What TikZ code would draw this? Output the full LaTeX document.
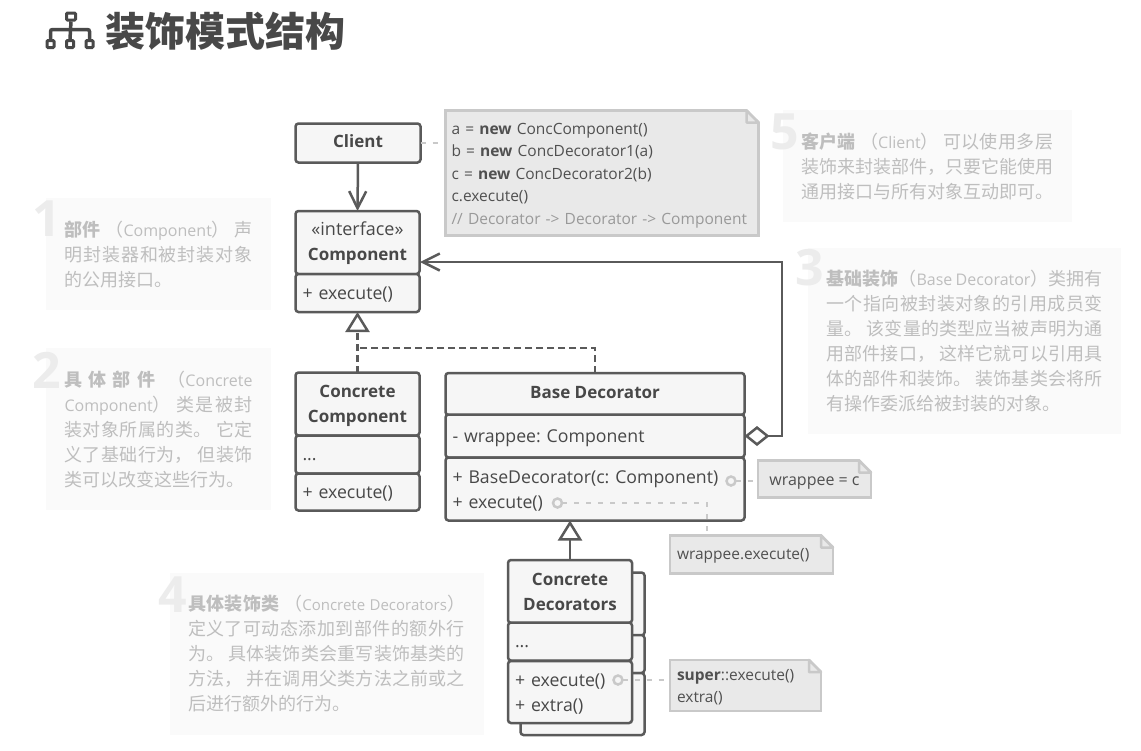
\documentclass[tikz,border=0pt]{standalone}
\usepackage{fontspec}
\setmainfont{Open Sans}
\newfontfamily\cjkface{Noto Sans CJK SC}
\newfontfamily\latinface{Open Sans}
\XeTeXlinebreaklocale "zh"
\XeTeXlinebreakskip=0pt plus 1.5pt
\frenchspacing
\usetikzlibrary{arrows.meta,calc}
\definecolor{inkline}{HTML}{5A5A5A}
\definecolor{boxfill}{HTML}{F6F6F6}
\definecolor{boxtext}{HTML}{484848}
\definecolor{notefill}{HTML}{E9E9E9}
\definecolor{noteline}{HTML}{C9C9C9}
\definecolor{notetext}{HTML}{505050}
\definecolor{panelfill}{HTML}{FAFAFA}
\definecolor{paneltext}{HTML}{BEBEBE}
\definecolor{panelnum}{HTML}{ECECEC}
\begin{document}
\begin{tikzpicture}[x=1pt,y=-1pt]
    \tikzset{
        part/.style={
            draw=inkline,fill=boxfill,line width=2.5pt,rounded corners=3pt,
            text=boxtext,inner sep=0pt,outer sep=0pt,align=center,
            font=\fontsize{17.7}{25}\selectfont,
            execute at begin node={\rule[-5pt]{0pt}{19pt}}
        },
        head/.style={part,font=\fontsize{17}{25}\selectfont\bfseries},
        twohead/.style={head,text width=110pt},
        members/.style={part,align=left,execute at begin node={\rule{0pt}{17pt}}},
        notebox/.style={
            draw=noteline,fill=notefill,line width=2.5pt,text=notetext,
            inner sep=0pt,outer sep=0pt,align=left,
            font=\fontsize{15.5}{22.5}\selectfont,
            execute at begin node={\rule[-5pt]{0pt}{19pt}}
        },
        panel/.style={
            fill=panelfill,text=paneltext,inner xsep=18.5pt,inner ysep=0pt,outer sep=0pt,
            align=justify,font=\fontsize{18}{25}\selectfont\cjkface
        },
        panelno/.style={
            text=panelnum,inner sep=0pt,
            font=\fontsize{50}{50}\selectfont\bfseries
        },
        dot/.style={
            circle,draw=noteline,line width=2.5pt,minimum size=9pt,
            inner sep=0pt,outer sep=0pt
        },
        iconbox/.style={
            draw=boxtext,line width=3pt,rounded corners=1pt,
            minimum width=7pt,minimum height=7pt,inner sep=0pt
        },
        link/.style={draw=noteline,line width=2pt,dash pattern=on 5pt off 7pt},
        flow/.style={draw=inkline,line width=2.5pt},
        uses/.style={flow,-{Straight Barb[length=17pt,width=17pt]}},
        holds/.style={flow,{Diamond[fill=white,length=25pt,width=20pt]}-{Straight Barb[length=17pt,width=17pt]}},
        extends/.style={flow,-{Triangle[fill=white,length=20pt,width=24pt]}},
        realizes/.style={extends,dash pattern=on 7pt off 4pt}
    }
    \useasboundingbox[fill=white] (0,0) rectangle (1141,750);

    \node[font=\fontsize{40}{44}\selectfont\bfseries\cjkface,text=boxtext,anchor=west,inner sep=0pt]
        (title) at (105,31) {装饰模式结构};
    \node[iconbox,minimum width=9pt] (icon-top) at (71,16.5) {};
    \node[iconbox] (icon-left) at (50.5,44) {};
    \node[iconbox] (icon-mid) at (70,44) {};
    \node[iconbox] (icon-right) at (89.5,44) {};
    \draw[boxtext,line width=3.5pt] (icon-top.south) -- (icon-mid.north);
    \draw[boxtext,line width=3.5pt,rounded corners=2pt] (icon-left.north) |- (71,29.5) -| (icon-right.north);

    \node[panel,minimum height=112pt,text width=188pt] (panel-comp) at (158.5,254)
        {{\bfseries 部件} （{\latinface\fontsize{16}{25}\selectfont Component}） 声\linebreak
         明封装器和被封装对象\linebreak
         的公用接口。};
    \node[panelno] (no-comp) at (47,219) {1};
    \node[panel,minimum height=162pt,text width=188pt] (panel-conc) at (158.5,429)
        {{\bfseries 具体部件} （{\latinface\fontsize{16}{25}\selectfont Concrete}\linebreak
         {\latinface\fontsize{16}{25}\selectfont Component}） 类是被封\linebreak
         装对象所属的类。 它定\linebreak
         义了基础行为， 但装饰\linebreak
         类可以改变这些行为。};
    \node[panelno] (no-conc) at (47,370) {2};
    \node[panel,minimum height=186pt,text width=276pt] (panel-base) at (964.5,341)
        {{\bfseries 基础装饰}（{\latinface\fontsize{16}{25}\selectfont Base Decorator}）类拥有\linebreak
         一个指向被封装对象的引用成员变\linebreak
         量。 该变量的类型应当被声明为通\linebreak
         用部件接口， 这样它就可以引用具\linebreak
         体的部件和装饰。 装饰基类会将所\linebreak
         有操作委派给被封装的对象。};
    \node[panelno] (no-base) at (810,268) {3};
    \node[panel,minimum height=162pt,text width=277pt] (panel-deco) at (326.5,654)
        {{\bfseries 具体装饰类} （{\latinface\fontsize{15}{25}\selectfont Concrete Decorators}）\linebreak
         定义了可动态添加到部件的额外行\linebreak
         为。 具体装饰类会重写装饰基类的\linebreak
         方法， 并在调用父类方法之前或之\linebreak
         后进行额外的行为。};
    \node[panelno] (no-deco) at (173,595) {4};
    \node[panel,minimum height=112pt,text width=252pt] (panel-client) at (927,166)
        {{\bfseries 客户端} （{\latinface\fontsize{16}{25}\selectfont Client}） 可以使用多层\linebreak
         装饰来封装部件，只要它能使用\linebreak
         通用接口与所有对象互动即可。};
    \node[panelno] (no-client) at (785,132) {5};

    \node[head,minimum width=125pt,minimum height=39pt] (client) at (358,143) {Client};
    \node[twohead,minimum width=124pt,minimum height=63pt,execute at begin node={\rule{0pt}{16pt}}] (comp-head) at (357.5,242.5)
        {{\fontsize{18}{25}\fontseries{m}\selectfont «interface»}\\Component};
    \node[members,minimum width=124pt,minimum height=38pt,text width=110pt] (comp-body) at (357.5,293) {+ execute()};

    \node[twohead,minimum width=124pt,minimum height=63pt,execute at begin node={\rule{0pt}{16pt}}] (cc-head) at (357.5,404) {Concrete\\Component};
    \node[members,minimum width=124pt,minimum height=38pt,text width=110pt] (cc-dots) at (357.5,454.5) {...};
    \node[members,minimum width=124pt,minimum height=37pt,text width=110pt] (cc-body) at (357.5,492) {+ execute()};

    \node[head,minimum width=299pt,minimum height=42pt] (base-head) at (595,394) {Base Decorator};
    \node[members,minimum width=299pt,minimum height=43pt,text width=285pt] (base-field) at (595,436) {- wrappee: Component};
    \node[members,minimum width=299pt,minimum height=63pt,text width=285pt] (base-body) at (595,489)
        {+ BaseDecorator(c: Component)\\+ execute()};

    \node[part,minimum width=124pt,minimum height=63pt] (back-head) at (582.5,604) {};
    \node[part,minimum width=124pt,minimum height=38pt] (back-dots) at (582.5,654) {};
    \node[part,minimum width=124pt,minimum height=62pt] (back-body) at (582.5,704) {};
    \node[twohead,minimum width=124pt,minimum height=63pt] (deco-head) at (570,591.5) {Concrete\\Decorators};
    \node[members,minimum width=124pt,minimum height=38pt,text width=110pt] (deco-dots) at (570,641.5) {...};
    \node[members,minimum width=124pt,minimum height=62pt,text width=110pt] (deco-body) at (570,692)
        {+ execute()\\+ extra()};

    \node[notebox,minimum width=313pt,minimum height=125pt,text width=301pt,execute at begin node={\rule{0pt}{16pt}}] (note-client) at (602,173)
        {a = \textbf{new} ConcComponent()\\
         b = \textbf{new} ConcDecorator1(a)\\
         c = \textbf{new} ConcDecorator2(b)\\
         c.execute()\\
         \textcolor{black!40}{// Decorator -> Decorator -> Component}};
    \node[notebox,minimum width=113pt,minimum height=37pt,font=\fontsize{16}{22.5}\selectfont,execute at begin node={\rule{0pt}{18pt}}] (note-wrap) at (814.5,479) {wrappee = c};
    \node[notebox,minimum width=163pt,minimum height=38pt,text width=149pt] (note-exec) at (751.5,554.5) {wrappee.execute()};
    \node[notebox,minimum width=151pt,minimum height=51pt,text width=137pt] (note-super) at (745.5,685.5)
        {\textbf{super}::execute()\\extra()};
    \foreach \n in {note-client,note-wrap,note-exec,note-super} {
        \fill[white] ($(\n.north east)+(-12,-2)$) -- ($(\n.north east)+(2,-2)$) -- ($(\n.north east)+(2,12)$) -- cycle;
        \draw[draw=noteline,fill=notefill,line width=2.5pt,line join=round]
            ($(\n.north east)+(-12,0)$) -- ($(\n.north east)+(-12,12)$) -- ($(\n.north east)+(0,12)$) -- cycle;
    }

    \node[dot] (dot-wrap) at (731,481) {};
    \node[dot] (dot-exec) at (557.5,503) {};
    \node[dot] (dot-super) at (618,680) {};
    \coordinate (exec-in) at (707,533);
    \coordinate (comp-in) at (420,262);
    \coordinate (real-join) at (357.5,348);

    \draw[uses] (client.south) -- (comp-head.north);
    \draw[holds] (base-field.east) -- ++(37.5,0) |- (comp-in);
    \draw[realizes] (cc-head.north) -- (comp-body.south);
    \draw[flow,dash pattern=on 7pt off 4pt] (base-head.north) |- (real-join);
    \draw[extends] (deco-head.north) -- (deco-head.north |- base-body.south);

    \draw[link] (client.east) -- (client.east -| note-client.west);
    \draw[link] (dot-wrap.east) -- (dot-wrap.east -| note-wrap.west);
    \draw[link] (dot-exec.east) -| (exec-in);
    \draw[link] (dot-super.east) -- (dot-super.east -| note-super.west);
\end{tikzpicture}
\end{document}
